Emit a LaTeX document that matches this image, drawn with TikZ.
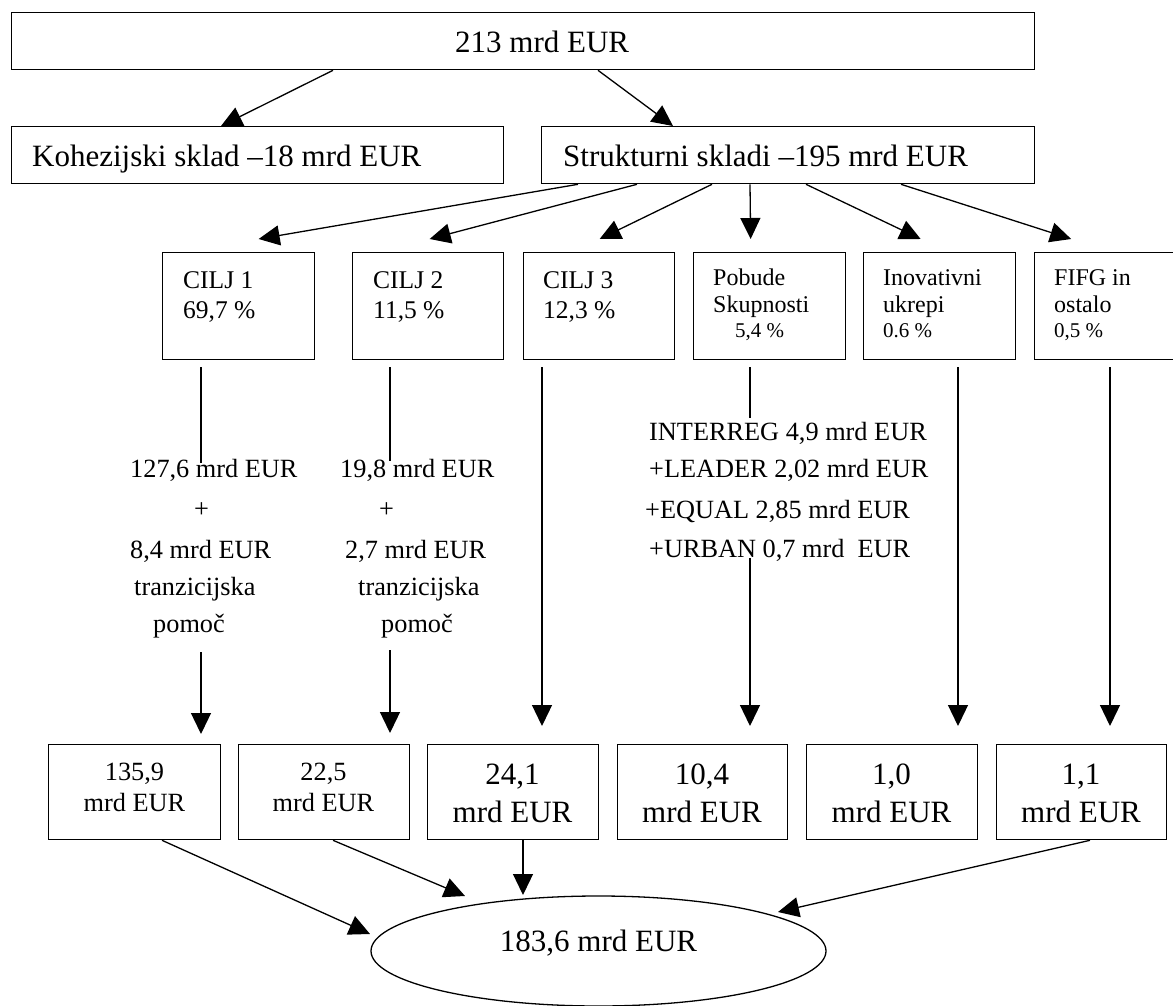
\documentclass[tikz,border=0pt]{standalone}
\usepackage{fontspec}
\setmainfont{Liberation Serif}
\usetikzlibrary{arrows.meta,shapes.geometric,calc}
\begin{document}
\begin{tikzpicture}[x=1pt,y=-1pt,
  box/.style={draw, line width=1.3pt, rectangle, inner sep=0pt, anchor=north west},
  conn/.style={line width=1.3pt},
  arr/.style={line width=1.3pt, -{Triangle[length=21pt,width=20pt]}},
  big/.style={font=\fontsize{31}{38}\selectfont, inner sep=0pt},
  bigc/.style={font=\fontsize{31}{38}\selectfont, inner sep=0pt, align=center},
  mid/.style={font=\fontsize{25.5}{30}\selectfont, inner sep=0pt, align=left},
  smalltxt/.style={font=\fontsize{24}{27}\selectfont, inner sep=0pt, align=left},
  midtxt/.style={font=\fontsize{26.3}{37}\selectfont, inner sep=0pt, align=left},
  bt/.style={font=\fontsize{26.3}{31}\selectfont, inner sep=0pt, align=center}]
\useasboundingbox (0,0) rectangle (1173,1006);

% boxes
\node[box, minimum width=1023pt, minimum height=57pt] (top) at (11,12) {};
\node[box, minimum width=492pt, minimum height=57pt] (koh) at (11,126) {};
\node[box, minimum width=493pt, minimum height=57pt] (struk) at (541,126) {};

\node[box, minimum width=152pt, minimum height=107pt] (c1) at (162,252) {};
\node[box, minimum width=151pt, minimum height=107pt] (c2) at (352,252) {};
\node[box, minimum width=151pt, minimum height=107pt] (c3) at (523,252) {};
\node[box, minimum width=152pt, minimum height=107pt] (pob) at (693,252) {};
\node[box, minimum width=152pt, minimum height=107pt] (inov) at (863,252) {};
\node[box, minimum width=152pt, minimum height=107pt] (fifg) at (1034,252) {};

\node[box, minimum width=172pt, minimum height=95pt] (b1) at (48,744) {};
\node[box, minimum width=171pt, minimum height=95pt] (b2) at (238,744) {};
\node[box, minimum width=171pt, minimum height=95pt] (b3) at (427,744) {};
\node[box, minimum width=170pt, minimum height=95pt] (b4) at (617,744) {};
\node[box, minimum width=171pt, minimum height=95pt] (b5) at (806,744) {};
\node[box, minimum width=170pt, minimum height=95pt] (b6) at (996,744) {};

\node[draw, ellipse, line width=1.3pt, minimum width=455pt, minimum height=110pt, inner sep=0pt] (ell) at (598.5,951) {};

% texts (base anchor = baseline of the last line)
\node[big, anchor=base west] (topt) at (455,53) {213 mrd EUR};
\node[big, anchor=base west] (koht) at (32,167) {Kohezijski sklad –18 mrd EUR};
\node[big, anchor=base west] (strukt) at (563,167) {Strukturni skladi –195 mrd EUR};

\node[mid, anchor=base west] (c1t) at (183,318) {CILJ 1\\69,7 \%};
\node[mid, anchor=base west] (c2t) at (373,318) {CILJ 2\\11,5 \%};
\node[mid, anchor=base west] (c3t) at (543,318) {CILJ 3\\12,3 \%};
\node[smalltxt, anchor=base west] (pobt) at (713,337) {Pobude\\Skupnosti\\[-2pt]\hspace*{22pt}{\fontsize{21}{25}\selectfont 5,4 \%}};
\node[smalltxt, anchor=base west] (inovt) at (883,337) {Inovativni\\ukrepi\\[-2pt]{\fontsize{21}{25}\selectfont 0.6 \%}};
\node[smalltxt, anchor=base west] (fifgt) at (1054,337) {FIFG in\\ostalo\\[-2pt]{\fontsize{21}{25}\selectfont 0,5 \%}};

\node[midtxt, anchor=base west] (c1v) at (130,632) {127,6 mrd EUR\\[3pt]\hspace*{64pt}+\\[4pt]8,4 mrd EUR\\\hspace*{4pt}tranzicijska\\\hspace*{23pt}pomoč};
\node[midtxt, anchor=base west] (c2v) at (340,632) {19,8 mrd EUR\\[3pt]\hspace*{39pt}+\\[4pt]\hspace*{5pt}2,7 mrd EUR\\\hspace*{18pt}tranzicijska\\\hspace*{41pt}pomoč};
\node[midtxt, anchor=base west] (pobv) at (645,557) {\hspace*{4pt}INTERREG 4,9 mrd EUR\\\hspace*{4pt}+LEADER 2,02 mrd EUR\\[4pt]+EQUAL 2,85 mrd EUR\\[2pt]\hspace*{4pt}+URBAN 0,7 mrd\ \ EUR};

\node[bt, anchor=base] (b1t) at (134.5,811) {135,9\\mrd EUR};
\node[bt, anchor=base] (b2t) at (323.5,811) {22,5\\mrd EUR};
\node[bigc, anchor=base] (b3t) at (512.5,822) {24,1\\mrd EUR};
\node[bigc, anchor=base] (b4t) at (702,822) {10,4\\mrd EUR};
\node[bigc, anchor=base] (b5t) at (891.5,822) {1,0\\mrd EUR};
\node[bigc, anchor=base] (b6t) at (1081,822) {1,1\\mrd EUR};

\node[big, anchor=base] (ellt) at (598.5,951) {183,6 mrd EUR};

% connectors top
\draw[arr] ($(top.south west)+(322,0)$) -- ($(koh.north west)+(210,0)$);
\draw[arr] ($(top.south west)+(587,0)$) -- ($(struk.north west)+(132,0)$);

\draw[arr] ($(struk.south west)+(37,0)$) -- ($(c1.north)+(20,-13)$);
\draw[arr] ($(struk.south west)+(96,0)$) -- ($(c2.north)+(1.5,-13)$);
\draw[arr] ($(struk.south west)+(171,0)$) -- ($(c3.north)+(0.5,-13)$);
\draw[arr] ($(struk.south west)+(209,0)$) -- ($(pob.north)+(-19,-13)$);
\draw[arr] ($(struk.south west)+(265,0)$) -- ($(inov.north)+(-19,-13)$);
\draw[arr] ($(struk.south west)+(360,0)$) -- ($(fifg.north)+(-39.5,-13)$);

% vertical connectors
\coordinate (c1a) at ($(c1.south west)+(39,103)$);
\coordinate (c1b) at ($(c1.south west)+(39,292)$);
\draw[conn] ($(c1.south west)+(39,7)$) -- (c1a);
\draw[arr] (c1b) -- ($(b1.north west)+(153,-10)$);

\coordinate (c2a) at ($(c2.south west)+(38,101)$);
\coordinate (c2b) at ($(c2.south west)+(38,290)$);
\draw[conn] ($(c2.south west)+(38,7)$) -- (c2a);
\draw[arr] (c2b) -- ($(b2.north west)+(152,-11)$);

\draw[arr] ($(c3.south west)+(19,7)$) -- ($(b3.north west)+(115,-18)$);

\coordinate (pa) at ($(pob.south west)+(57,58)$);
\coordinate (pb) at ($(pob.south west)+(57,198)$);
\draw[conn] ($(pob.south west)+(57,7)$) -- (pa);
\draw[arr] (pb) -- ($(b4.north west)+(133,-18)$);

\draw[arr] ($(inov.south west)+(95,7)$) -- ($(b5.north west)+(152,-18)$);
\draw[arr] ($(fifg.south west)+(76,7)$) -- ($(b6.north west)+(114,-18)$);

% to ellipse
\draw[arr] ($(b1.south west)+(114,0)$) -- ($(ell.center)+(-228.5,-17)$);
\draw[arr] ($(b2.south west)+(95,0)$) -- ($(ell.center)+(-133.5,-55)$);
\draw[arr] ($(b3.south west)+(96,0)$) -- ($(ell.center)+(-75.5,-56)$);
\draw[arr] ($(b6.south west)+(94,0)$) -- ($(ell.center)+(179.5,-39)$);
\end{tikzpicture}
\end{document}
